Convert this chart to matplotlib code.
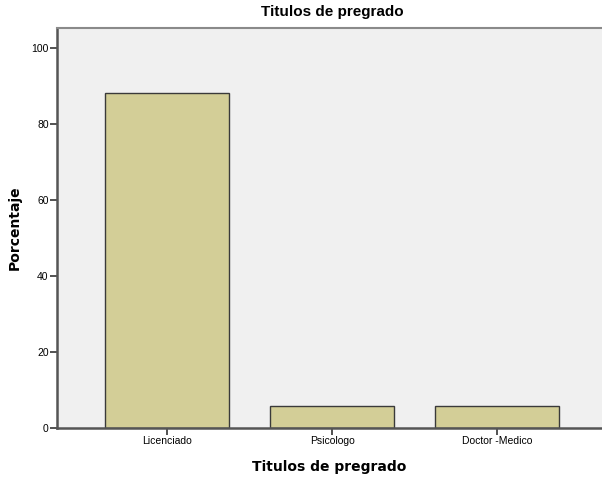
import numpy as np
import matplotlib
matplotlib.use("Agg")
import matplotlib.pyplot as plt

categories = ["Licenciado", "Psicologo", "Doctor -Medico"]
porcentaje = [88.2, 5.9, 5.9]
y_ticks = [0, 20, 40, 60, 80, 100]

fig = plt.figure(figsize=(6.02, 4.78), dpi=100)
ax = fig.add_axes([57 / 602, 1 - 428 / 478, 1 - 57 / 602, 400 / 478])
ax.set_facecolor("#f0f0f0")

x = np.arange(len(categories))
ax.bar(x, porcentaje, width=0.75, color="#d3ce97", edgecolor="#3a3a3a", linewidth=1.0, zorder=2)

ax.set_xlim(-0.667, 2.636)
ax.set_ylim(0, 105.3)
ax.set_xticks(x)
ax.set_xticklabels(categories, fontsize=7.5, family="Liberation Sans")
ax.set_yticks(y_ticks)
ax.set_yticklabels([str(t) for t in y_ticks], fontsize=7.5, family="Liberation Sans")
ax.tick_params(axis="both", length=5, width=1.2, color="#333333", pad=1)

ax.spines["right"].set_visible(False)
ax.spines["top"].set_color("#8a8a8a")
ax.spines["top"].set_linewidth(1.5)
for s in ["left", "bottom"]:
    ax.spines[s].set_color("#555555")
    ax.spines[s].set_linewidth(1.8)

ax.set_xlabel("Titulos de pregrado", fontsize=10, fontweight="bold", labelpad=10)
ax.set_ylabel("Porcentaje", fontsize=10, fontweight="bold", labelpad=7)
fig.text(332 / 602, 1 - 12 / 478, "Titulos de pregrado", ha="center", va="center",
         fontsize=11, fontweight="bold", family="Liberation Sans")

fig.savefig("out.png", dpi=100)
